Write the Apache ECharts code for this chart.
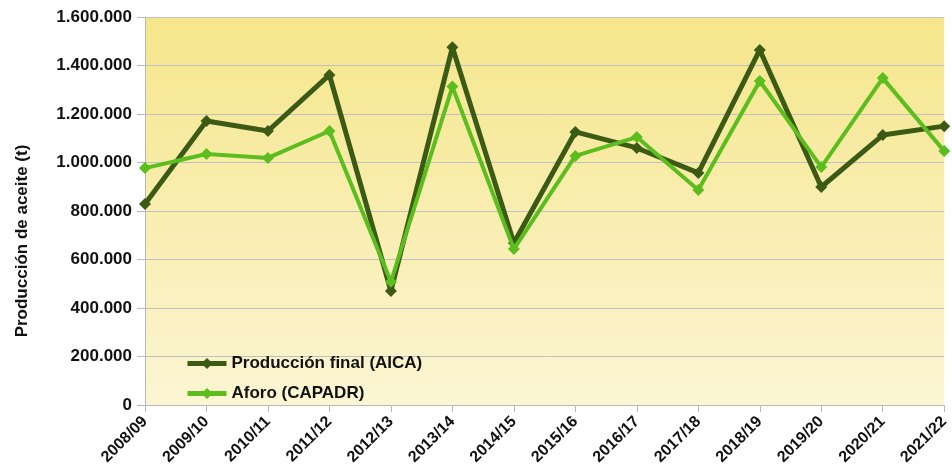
<!DOCTYPE html>
<html>
<head>
<meta charset="utf-8">
<script src="https://cdn.jsdelivr.net/npm/echarts@6/dist/echarts.min.js"></script>
<style>
  html, body { margin: 0; padding: 0; background: #fff; }
  #chart { width: 952px; height: 473px; }
</style>
</head>
<body>
<div id="chart"></div>
<script>
const campaigns = ['2008/09', '2009/10', '2010/11', '2011/12', '2012/13', '2013/14', '2014/15',
  '2015/16', '2016/17', '2017/18', '2018/19', '2019/20', '2020/21', '2021/22'];
const produccionAica = [829000, 1171000, 1130000, 1361000, 470000, 1475000, 668000,
  1126000, 1060000, 957000, 1464000, 899000, 1113000, 1150000];
const aforoCapadr = [977000, 1035000, 1019000, 1130000, 508000, 1313000, 643000,
  1027000, 1105000, 887000, 1336000, 981000, 1348000, 1047000];

const darkGreen = '#3b5a14';
const lightGreen = '#5cbd1e';

const fmt = v => String(v).replace(/\B(?=(\d{3})+(?!\d))/g, '.');

const chart = echarts.init(document.getElementById('chart'));
chart.setOption({
  animation: false,
  textStyle: { fontFamily: 'Liberation Sans' },
  grid: {
    left: 145, right: 5, top: 17, bottom: 68,
    show: true,
    borderWidth: 0,
    backgroundColor: new echarts.graphic.LinearGradient(0, 0, 0, 1, [
      { offset: 0, color: '#f5e68b' },
      { offset: 1, color: '#fbf5d3' },
    ]),
  },
  // axis title placed by hand, it sits a bit below the plot middle in the original
  graphic: [{
    type: 'text',
    x: 22, y: 241,
    rotation: Math.PI / 2,
    style: {
      text: 'Producción de aceite (t)',
      font: 'bold 17px "Liberation Sans"',
      fill: '#111',
      textAlign: 'center',
      textVerticalAlign: 'middle',
    },
  }],
  legend: {
    left: 185, top: 355,
    padding: 0,
    orient: 'vertical',
    itemGap: 13,
    itemWidth: 39, itemHeight: 14,
    textStyle: { fontSize: 17, fontWeight: 'bold', color: '#111' },
    data: [
      { name: 'Producción final (AICA)', lineStyle: { width: 5 } },
      { name: 'Aforo (CAPADR)', lineStyle: { width: 5 } },
    ],
  },
  xAxis: {
    type: 'category',
    data: campaigns,
    boundaryGap: false,
    axisLine: { lineStyle: { color: '#b8b8b8', width: 1 } },
    axisTick: { show: true, length: 7, lineStyle: { color: '#b8b8b8' } },
    axisLabel: { rotate: 45, fontSize: 16, fontWeight: 'bold', color: '#111', margin: 14 },
    splitLine: { show: false },
  },
  yAxis: {
    type: 'value',
    min: 0, max: 1600000, interval: 200000,
    axisLine: { show: true, lineStyle: { color: '#b8b8b8' } },
    axisTick: { show: true, length: 8, lineStyle: { color: '#b8b8b8' } },
    axisLabel: { fontSize: 17, fontWeight: 'bold', color: '#111', margin: 13, formatter: fmt },
    splitLine: { lineStyle: { color: '#c0c0c0', width: 1 } },
  },
  series: [
    {
      name: 'Producción final (AICA)',
      type: 'line',
      data: produccionAica,
      symbol: 'diamond',
      symbolSize: 12,
      lineStyle: { color: darkGreen, width: 5 },
      itemStyle: { color: darkGreen },
      z: 2,
    },
    {
      name: 'Aforo (CAPADR)',
      type: 'line',
      data: aforoCapadr,
      symbol: 'diamond',
      symbolSize: 12,
      lineStyle: { color: lightGreen, width: 4 },
      itemStyle: { color: lightGreen },
      z: 3,
    },
  ],
});
</script>
</body>
</html>
